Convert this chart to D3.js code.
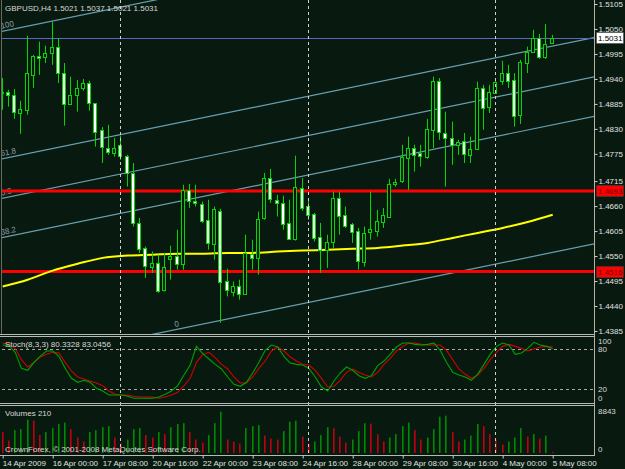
<!DOCTYPE html>
<html>
<head>
<meta charset="utf-8">
<script src="https://cdn.jsdelivr.net/npm/d3@7"></script>
<style>
    html, body { margin: 0; padding: 0; background: #081a10; overflow: hidden; }
    svg { display: block; }
    text { font-family: "Liberation Sans", Arial, sans-serif; font-size: 8px; fill: #d8d8d8; }
</style>
</head>
<body>
<div id="chart"></div>
<script>
// GBPUSD H4 bars, 14 Apr 2009 16:00 .. 5 May 2009 08:00
const opens  = [1.4910,1.4912,1.4905,1.4865,1.4872,1.4949,1.4991,1.4989,1.4997,1.5011,
                1.4953,1.4885,1.4905,1.4920,1.4931,1.4887,1.4828,1.4788,1.4777,1.4795,
                1.4771,1.4733,1.4623,1.4568,1.4527,1.4535,1.4476,1.4544,1.4551,1.4533,
                1.4696,1.4672,1.4665,1.4630,1.4577,1.4650,1.4494,1.4472,1.4485,1.4467,
                1.4555,1.4546,1.4634,1.4722,1.4674,1.4667,1.4623,1.4588,1.4700,1.4661,
                1.4643,1.4593,1.4564,1.4582,1.4678,1.4641,1.4621,1.4606,1.4538,1.4604,
                1.4606,1.4626,1.4637,1.4709,1.4716,1.4766,1.4788,1.4777,1.4769,1.4828,
                1.4936,1.4821,1.4810,1.4795,1.4804,1.4773,1.4786,1.4920,1.4879,1.4909,
                1.4936,1.4953,1.4938,1.4861,1.4975,1.4999,1.5030,1.4989,1.5021];
const highs  = [1.4942,1.4916,1.4918,1.4892,1.5035,1.4993,1.5022,1.5013,1.5066,1.5030,
                1.4975,1.4945,1.4938,1.4940,1.4936,1.4887,1.4834,1.4839,1.4810,1.4815,
                1.4773,1.4755,1.4634,1.4571,1.4560,1.4553,1.4557,1.4573,1.4608,1.4707,
                1.4709,1.4707,1.4670,1.4674,1.4659,1.4654,1.4522,1.4494,1.4498,1.4597,
                1.4586,1.4648,1.4733,1.4742,1.4685,1.4683,1.4674,1.4771,1.4722,1.4676,
                1.4645,1.4623,1.4597,1.4692,1.4692,1.4659,1.4623,1.4612,1.4615,1.4692,
                1.4652,1.4656,1.4720,1.4720,1.4795,1.4813,1.4795,1.4795,1.4852,1.4945,
                1.4942,1.4868,1.4846,1.4806,1.4821,1.4813,1.4934,1.4927,1.4927,1.4942,
                1.4980,1.4971,1.4953,1.4982,1.5011,1.5048,1.5039,1.5061,1.5037];
const lows   = [1.4872,1.4879,1.4852,1.4819,1.4861,1.4920,1.4949,1.4975,1.4971,1.4931,
                1.4837,1.4883,1.4868,1.4914,1.4870,1.4791,1.4755,1.4773,1.4769,1.4762,
                1.4703,1.4615,1.4557,1.4502,1.4513,1.4469,1.4472,1.4498,1.4520,1.4520,
                1.4656,1.4659,1.4623,1.4564,1.4542,1.4403,1.4461,1.4461,1.4454,1.4465,
                1.4520,1.4509,1.4630,1.4667,1.4637,1.4608,1.4586,1.4584,1.4650,1.4630,
                1.4582,1.4513,1.4524,1.4568,1.4597,1.4612,1.4579,1.4520,1.4527,1.4586,
                1.4593,1.4612,1.4634,1.4703,1.4711,1.4696,1.4736,1.4747,1.4764,1.4788,
                1.4806,1.4703,1.4751,1.4773,1.4755,1.4755,1.4784,1.4828,1.4865,1.4907,
                1.4927,1.4920,1.4835,1.4841,1.4953,1.4999,1.4984,1.4984,1.5021];
const closes = [1.4912,1.4905,1.4868,1.4874,1.4953,1.4991,1.4986,1.4997,1.5011,1.4953,
                1.4885,1.4905,1.4920,1.4931,1.4887,1.4824,1.4791,1.4780,1.4788,1.4771,
                1.4733,1.4623,1.4566,1.4529,1.4535,1.4474,1.4527,1.4551,1.4533,1.4696,
                1.4672,1.4667,1.4628,1.4579,1.4654,1.4494,1.4474,1.4485,1.4467,1.4557,
                1.4546,1.4632,1.4722,1.4676,1.4667,1.4621,1.4588,1.4703,1.4656,1.4641,
                1.4590,1.4564,1.4582,1.4678,1.4639,1.4617,1.4604,1.4540,1.4601,1.4610,
                1.4628,1.4641,1.4709,1.4714,1.4769,1.4788,1.4773,1.4771,1.4830,1.4936,
                1.4824,1.4810,1.4795,1.4802,1.4775,1.4786,1.4920,1.4876,1.4912,1.4934,
                1.4953,1.4936,1.4859,1.4978,1.4999,1.5030,1.4989,1.5017,1.5031];

// yellow moving average, read every 4th bar
const maBars   = [0,4,8,12,16,20,24,28,32,36,40,44,48,52,56,60,64,68,72,76,80,84,88];
const maValues = [1.4483,1.4498,1.4518,1.4533,1.4546,1.4551,1.4553,1.4555,1.4555,1.4557,
                  1.4557,1.4560,1.4562,1.4564,1.4566,1.4568,1.4573,1.4579,1.4590,1.4601,
                  1.4612,1.4625,1.4641];

// Stoch(8,3,3)
const stochK = [86,85,75,51,48,60,69,77,77,69,51,36,30,33,30,21,17,11,11,11,
                9,6,6,6,6,8,12,17,25,41,56,84,73,65,57,50,38,27,24,30,
                44,60,78,86,83,69,59,57,56,51,38,23,17,32,44,53,48,40,36,40,
                55,62,72,83,89,89,87,86,87,89,78,60,45,41,38,33,42,57,72,84,
                89,86,72,74,81,90,86,84,80.3328];
const stochD = [89,87,81,64,53,60,68,72,75,74,60,47,38,35,32,29,25,17,12,11,
                11,9,8,8,8,6,8,11,15,25,36,60,72,75,67,57,50,38,29,29,
                38,51,62,77,83,77,68,62,57,56,48,36,23,24,33,45,50,45,41,38,
                45,57,66,77,84,89,89,87,86,86,86,78,64,50,42,36,41,51,64,75,
                84,87,84,81,77,80,83,84,83.0456];

// Volumes
const volumes = [4200,2500,4600,4800,6700,6500,3600,4200,5000,5800,
                 6100,4800,3100,2300,4200,4600,5200,5400,3100,1900,
                 2700,4800,5000,3600,3100,4200,3800,5200,5800,6000,
                 4200,2700,2100,3600,6000,8300,2700,2300,1900,5000,
                 5400,5600,3500,2900,2700,4400,6300,6500,3300,1900,
                 2300,3600,5200,5000,3300,2100,2700,4400,6000,5900,
                 3800,2300,3100,3800,5400,6100,4600,2700,3100,4800,
                 7300,7500,4200,2300,2700,3500,5800,5400,3800,2700,
                 1700,2300,3100,5000,3300,3800,2900,3500,210];
const volumeMax = 8843;

const priceTicks = [1.5105,1.5050,1.4995,1.4940,1.4885,1.4830,1.4775,1.4715,
                    1.4660,1.4605,1.4550,1.4495,1.4440,1.4385];
const timeTickBars = [0,8,16,24,32,40,48,56,64,72,80,88];
const timeLabels = ["14 Apr 2009","16 Apr 00:00","17 Apr 08:00","20 Apr 16:00",
                    "22 Apr 00:00","23 Apr 08:00","24 Apr 16:00","28 Apr 00:00",
                    "29 Apr 08:00","30 Apr 16:00","4 May 00:00","5 May 08:00"];
const stochLevels = [80, 20];
const stochLabels = [100, 80, 20, 0];
const redLevels = [1.4693, 1.4516];
const lastPrice = 1.5031;
const separatorBars = [19, 49, 79];

// fibonacci channel: base line at bar 0, rise per bar, channel height
const fiboBase = 1.4310, fiboSlope = 0.000282, fiboHeight = 0.0735;
const fiboLevels = [0, 38.2, 50, 61.8, 100];
const fiboLabels = ["0", "38.2", "0.5", "61.8", "100"];

const bg = '#081a10';

function drawChart() {
    const width = 625, height = 469;
    const plotLeft = 2, plotRight = 594;
    const mainBottom = 334;

    const svg = d3.select('#chart').append('svg')
        .attr('width', width).attr('height', height)
        .style('background', bg);

    const x = d3.scaleLinear().domain([0, 88]).range([2.7, 552.7]);
    const y = d3.scaleLinear().domain([1.4385, 1.5105]).range([331, 4]);
    const yS = d3.scaleLinear().domain([0, 100]).range([402.3, 335.7]);
    const yV = d3.scaleLinear().domain([0, volumeMax]).range([453, 409]);

    const px = i => Math.round(x(i));

    svg.append('clipPath').attr('id', 'clipMain')
        .append('rect').attr('x', plotLeft).attr('y', 0)
        .attr('width', plotRight - plotLeft).attr('height', mainBottom);

    const main = svg.append('g').attr('clip-path', 'url(#clipMain)');

    // fibo channel
    const fiboAngle = Math.atan2(y(fiboSlope * 10) - y(0), x(10) - x(0)) * 180 / Math.PI;
    fiboLevels.forEach((lv, k) => {
        const p = i => fiboBase + fiboSlope * i + fiboHeight * lv / 100;
        main.append('line')
            .attr('x1', x(-2)).attr('y1', y(p(-2)))
            .attr('x2', x(100)).attr('y2', y(p(100)))
            .attr('stroke', '#6a9fb0').attr('stroke-width', 1.2);
        // label where the line enters the visible area
        let i0 = -0.4;
        while (y(p(i0)) > mainBottom - 4) i0 += 0.1;
        main.append('text')
            .attr('transform', `translate(${x(i0) + 1},${y(p(i0)) - 3}) rotate(${fiboAngle})`)
            .style('fill', '#8a9aa8')
            .text(fiboLabels[k]);
    });

    // last price line
    main.append('line')
        .attr('x1', plotLeft).attr('x2', plotRight)
        .attr('y1', Math.round(y(lastPrice)) + 0.5).attr('y2', Math.round(y(lastPrice)) + 0.5)
        .attr('stroke', '#5a68c0').attr('stroke-width', 1);

    // red levels
    main.selectAll('line.red').data(redLevels).join('line')
        .attr('class', 'red')
        .attr('x1', plotLeft).attr('x2', plotRight)
        .attr('y1', d => y(d)).attr('y2', d => y(d))
        .attr('stroke', '#ff0000').attr('stroke-width', 3);

    // moving average
    const maLine = d3.line().x((d, i) => x(maBars[i])).y(d => y(d)).curve(d3.curveMonotoneX);
    main.append('path').datum(maValues)
        .attr('d', maLine).attr('fill', 'none')
        .attr('stroke', '#ffff00').attr('stroke-width', 2);

    // candles
    const idx = d3.range(opens.length);
    const green = '#00d800';
    main.selectAll('line.wick').data(idx).join('line')
        .attr('class', 'wick')
        .attr('x1', i => px(i) - 0.5).attr('x2', i => px(i) - 0.5)
        .attr('y1', i => y(highs[i])).attr('y2', i => y(lows[i]))
        .attr('stroke', green).attr('stroke-width', 1);
    main.selectAll('rect.body').data(idx).join('rect')
        .attr('class', 'body')
        .attr('x', i => px(i) - 2.5).attr('width', 3)
        .attr('y', i => Math.round(y(Math.max(opens[i], closes[i]))) + 0.5)
        .attr('height', i => Math.max(1, Math.round(Math.abs(y(opens[i]) - y(closes[i])))))
        .attr('fill', i => closes[i] < opens[i] ? '#ffffff' : bg)
        .attr('stroke', green).attr('stroke-width', 1);

    // stochastic
    stochLevels.forEach(lv => {
        svg.append('line')
            .attr('x1', plotLeft).attr('x2', plotRight)
            .attr('y1', Math.round(yS(lv)) + 0.5).attr('y2', Math.round(yS(lv)) + 0.5)
            .attr('stroke', '#a8a8a8').attr('stroke-dasharray', '3,3');
    });
    const sLine = d3.line().x((d, i) => x(i)).y(d => yS(d));
    svg.append('path').datum(stochD).attr('d', sLine)
        .attr('fill', 'none').attr('stroke', '#d00000').attr('stroke-width', 1.1);
    svg.append('path').datum(stochK).attr('d', sLine)
        .attr('fill', 'none').attr('stroke', '#00a000').attr('stroke-width', 1.1);

    // volumes
    svg.selectAll('rect.vol').data(idx).join('rect')
        .attr('class', 'vol')
        .attr('x', i => px(i) - 1).attr('width', 1.6)
        .attr('y', i => yV(volumes[i])).attr('height', i => yV(0) - yV(volumes[i]))
        .attr('fill', i => (i > 0 && volumes[i] > volumes[i - 1]) ? '#008a00' : '#c00010');

    // separators (weekly)
    svg.selectAll('line.sep').data(separatorBars).join('line')
        .attr('class', 'sep')
        .attr('x1', i => px(i) - 0.5).attr('x2', i => px(i) - 0.5)
        .attr('y1', 0).attr('y2', 455)
        .attr('stroke', '#d0d0d0').attr('stroke-dasharray', '3,3');

    // panel borders
    [334.5, 336.5, 403.5, 405.5, 455.5].forEach(yy => {
        svg.append('line').attr('x1', 0).attr('x2', plotRight)
            .attr('y1', yy).attr('y2', yy)
            .attr('stroke', '#b8b8b8').attr('stroke-width', 1);
    });
    svg.append('line').attr('x1', plotRight + 0.5).attr('x2', plotRight + 0.5)
        .attr('y1', 0).attr('y2', 456).attr('stroke', '#b8b0a0');
    svg.append('line').attr('x1', 1.5).attr('x2', 1.5)
        .attr('y1', 0).attr('y2', mainBottom).attr('stroke', '#6a6a60');

    // price axis
    const pAxis = svg.append('g')
        .attr('transform', `translate(${plotRight + 0.5},0)`)
        .call(d3.axisRight(y).tickValues(priceTicks).tickFormat(d3.format('.4f')).tickSize(3));
    pAxis.select('.domain').remove();
    pAxis.selectAll('line').attr('stroke', '#d0d0d0');
    pAxis.selectAll('text').attr('x', 4).style('fill', '#e0e0e0').style('font-size', '8px');

    // price labels on axis
    const tags = [{v: lastPrice, bgc: '#ffffff', fg: '#000000'},
                  {v: redLevels[0], bgc: '#ff0000', fg: '#700000'},
                  {v: redLevels[1], bgc: '#ff0000', fg: '#700000'}];
    tags.forEach(t => {
        const yy = Math.round(y(t.v));
        svg.append('rect').attr('x', plotRight + 2.5).attr('y', yy - 5.5)
            .attr('width', 27).attr('height', 11)
            .attr('fill', t.bgc).attr('stroke', '#404040').attr('stroke-width', 0.5);
        svg.append('text').attr('x', plotRight + 4).attr('y', yy + 3)
            .style('fill', t.fg).text(d3.format('.4f')(t.v));
    });

    // stoch & volume axis labels
    svg.selectAll('text.sl').data(stochLabels).join('text')
        .attr('class', 'sl')
        .attr('x', plotRight + 4)
        .attr('y', d => d === 100 ? 344 : d === 0 ? 401 : yS(d) + 3)
        .text(d => d);
    svg.append('text').attr('x', plotRight + 4).attr('y', 414).text(volumeMax);
    svg.append('text').attr('x', plotRight + 4).attr('y', 452).text(0);

    // time axis
    const tAxis = svg.append('g')
        .attr('transform', 'translate(0,455.5)')
        .call(d3.axisBottom(x).tickValues(timeTickBars).tickFormat((d, i) => timeLabels[i]).tickSize(3));
    tAxis.select('.domain').remove();
    tAxis.selectAll('line').attr('stroke', '#d0d0d0');
    tAxis.selectAll('text').attr('text-anchor', 'start').attr('dx', -0.5).attr('y', 5)
        .style('fill', '#e0e0e0').style('font-size', '8px');

    // titles
    svg.append('text').attr('x', 5).attr('y', 11)
        .text(`GBPUSD,H4  ${opens[88].toFixed(4)} ${highs[88].toFixed(4)} ${lows[88].toFixed(4)} ${closes[88].toFixed(4)}`);
    svg.append('text').attr('x', 5).attr('y', 347)
        .text(`Stoch(8,3,3) ${stochK[88].toFixed(4)} ${stochD[88].toFixed(4)}`);
    svg.append('text').attr('x', 5).attr('y', 416)
        .text(`Volumes ${volumes[88]}`);
    svg.append('text').attr('x', 5).attr('y', 452)
        .text('CrownForex, \u00a9 2001-2008 MetaQuotes Software Corp.');
}

drawChart();
</script>
</body>
</html>
